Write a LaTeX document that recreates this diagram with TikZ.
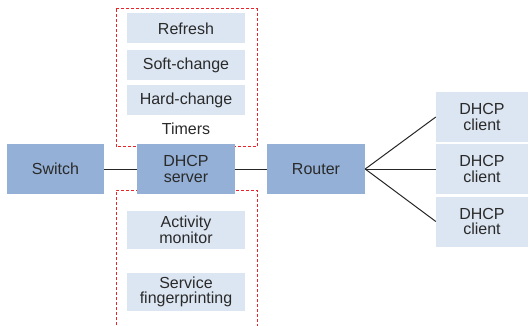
\documentclass[tikz,border=0pt]{standalone}
\usepackage{fontspec}
\setmainfont{Liberation Sans}
\definecolor{darkbox}{HTML}{94B0D6}
\definecolor{lightbox}{HTML}{DCE6F2}
\definecolor{boxtext}{HTML}{2A2A2A}
\definecolor{dashred}{HTML}{E8242B}
\begin{document}
\begin{tikzpicture}[x=1pt,y=-1pt,
  every node/.style={font=\fontsize{16}{15.5}\selectfont,text=boxtext,align=center,inner sep=0pt},
  unit/.style={fill=darkbox,minimum width=98pt,minimum height=49pt},
  part/.style={fill=lightbox,minimum width=118pt,minimum height=30pt},
  client/.style={fill=lightbox,minimum width=92pt,minimum height=50pt},
  link/.style={line width=1pt,color=black!85},
  group/.style={color=dashred,line width=1pt,dash pattern=on 3pt off 2pt}]
  \useasboundingbox (0,0) rectangle (530,326);
  % dashed groups behind the server
  \draw[group] (116,9) rectangle (257,147);
  \draw[group] (116,330) -- (116,190) -- (257,190) -- (257,330);
  % timers
  \node[part] (refresh) at (186,28.5) {Refresh};
  \node[part] (soft) at (186,65) {Soft-change};
  \node[part] (hard) at (186,100.5) {Hard-change};
  \node (timers) at (186,129) {Timers};
  % main line
  \node[unit,minimum width=97pt] (switch) at (55.5,169) {Switch};
  \node[unit] (server) at (186,169) {DHCP\\server};
  \node[unit] (router) at (316,169) {Router};
  \draw[link] (switch) -- (server);
  \draw[link] (server) -- (router);
  % monitors
  \node[part,minimum height=38pt] (activity) at (186,230) {Activity\\monitor};
  \node[part,minimum height=38pt] (service) at (186,292) {Service\\fingerprinting};
  % clients
  \node[client] (client1) at (482,117) {DHCP\\client};
  \node[client,minimum height=49pt] (client2) at (482,169) {DHCP\\client};
  \node[client] (client3) at (482,221.5) {DHCP\\client};
  \foreach \c in {client1,client2,client3}
    \draw[link] (router.east) -- (\c.west);
\end{tikzpicture}
\end{document}
